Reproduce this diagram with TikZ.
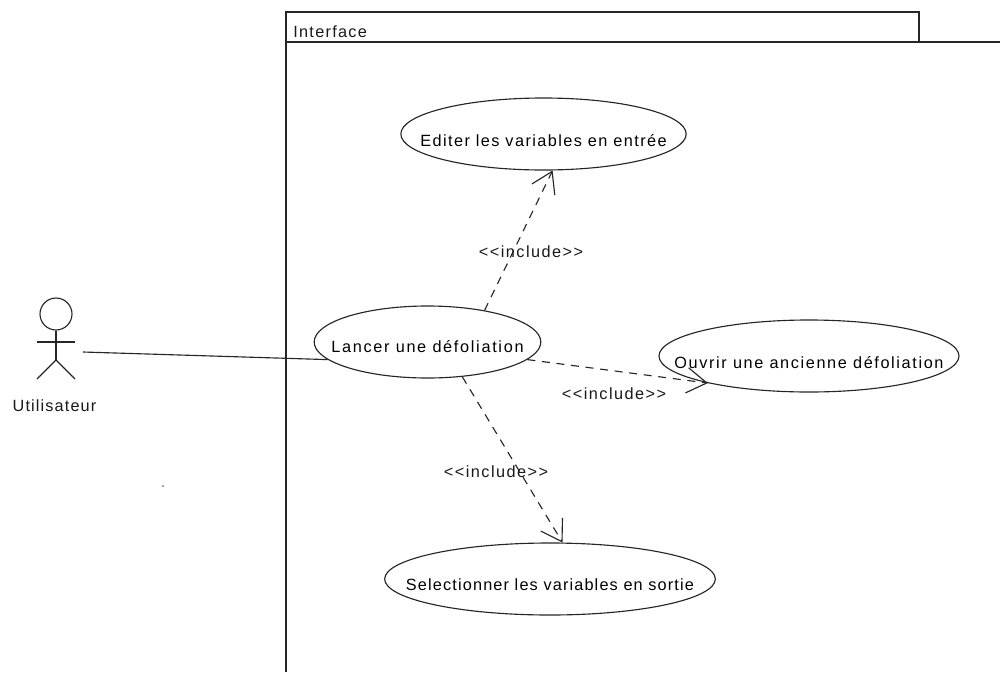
\documentclass[tikz,border=0pt]{standalone}
\usepackage{fontspec}
\setmainfont{Liberation Sans}
\usetikzlibrary{shapes.geometric,arrows.meta}
\tikzset{
  px/.style={x=0.75pt,y=-0.75pt},
  line/.style={line width=0.85pt,black!85},
  usecase/.style={draw,ellipse,line,inner sep=0pt,text=black},
  txt/.style={inner sep=0pt,font=\fontsize{12.2pt}{14pt}\selectfont,text=black!90},
  include/.style={line,dashed,dash pattern=on 6pt off 5pt,-{Straight Barb[length=15pt,width=19pt,line width=0.85pt]}},
}
\newcommand{\uctext}[3]{\raisebox{#1}[0pt][0pt]{\makebox[0pt]{\fontsize{12.2pt}{14pt}\selectfont\addfontfeature{LetterSpace=#2}#3}}}
\begin{document}
\begin{tikzpicture}[px]
\useasboundingbox (0,0) rectangle (1000,672);
% package
\draw[line] (286,672) -- (286,12) -- (919,12) -- (919,42);
\draw[line] (286,42) -- (1000,42);
\node[txt,anchor=base west] (pkg) at (293,37) {\addfontfeature{LetterSpace=8}Interface};
% use cases
\node[usecase,minimum width=214pt,minimum height=54pt] (editer) at (543.5,134) {\uctext{-9.2pt}{8.8}{Editer les variables en entrée}};
\node[usecase,minimum width=170pt,minimum height=54pt] (lancer) at (427.5,342) {\uctext{-8.2pt}{10.4}{Lancer une défoliation}};
\node[usecase,minimum width=225pt,minimum height=54pt] (ouvrir) at (809,356) {\uctext{-9.2pt}{10}{Ouvrir une ancienne défoliation}};
\node[usecase,minimum width=248pt,minimum height=54pt] (select) at (550,579) {\uctext{-8.5pt}{7.1}{Selectionner les variables en sortie}};
% actor
\node[draw,circle,line,minimum size=24pt,inner sep=0pt] (head) at (56,314) {};
\coordinate (hip) at (56,360);
\coordinate (armL) at (37,342);
\coordinate (armR) at (75,342);
\coordinate (legL) at (37,379);
\coordinate (legR) at (75,379);
\coordinate (actorend) at (83,352);
\draw[line] (head.south) -- (hip);
\draw[line] (armL) -- (armR);
\draw[line] (legL) -- (hip) -- (legR);
\node[txt,anchor=base] (actor) at (54.5,411) {\addfontfeature{LetterSpace=7}Utilisateur};
% connectors
\draw[line] (actorend) -- (lancer.190.5);
\draw[include] (lancer.29.5) -- (editer.284.8);
\draw[include] (lancer.350.3) -- (ouvrir.195.6);
\draw[include] (lancer.315.4) -- (select.71.6);
% labels
\node[txt,anchor=base] (l1) at (531,257) {\addfontfeature{LetterSpace=9}<{}<include>{}>};
\node[txt,anchor=base] (l2) at (614,399) {\addfontfeature{LetterSpace=9}<{}<include>{}>};
\node[txt,anchor=base] (l3) at (496,477) {\addfontfeature{LetterSpace=9}<{}<include>{}>};
% speck
\fill[black!70] (163,486) circle[radius=0.6pt];
\end{tikzpicture}
\end{document}
